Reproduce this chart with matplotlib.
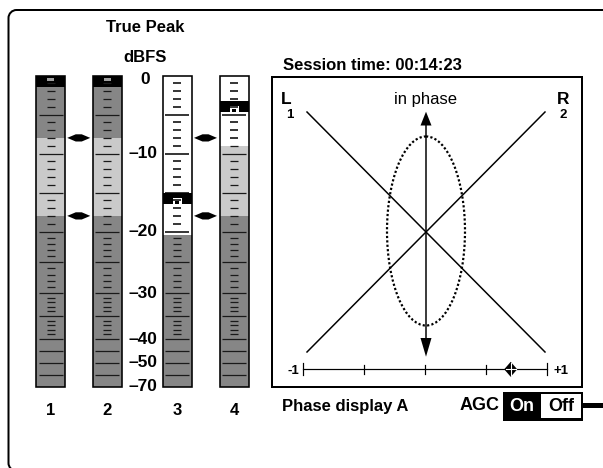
import numpy as np
import matplotlib.pyplot as plt
from matplotlib.patches import Rectangle, Polygon, Ellipse, PathPatch
from matplotlib.path import Path

plt.rcParams['font.family'] = ['Liberation Sans', 'DejaVu Sans']

# meter data (dBFS)
channels = ['1', '2', '3', '4']
level_db = [0, 0, -20.5, -9]
peak_db = [0, 0, -15.8, -4.0]
scale_db = [0, -10, -20, -30, -40, -50, -70]
scale_text = ['0', '\u201310', '\u201320', '\u201330', '\u201340', '\u201350', '\u201370']
zone_db = [-8, -18]
major_db = [0, -5, -10, -15, -20, -25, -30, -35, -40, -45, -50, -60]
minor_db = [-d for d in range(1, 40) if d % 5 != 0]

# phase display data
phase_corr = 0.7
phase_ticks = [-1, -0.5, 0, 0.5, 1]
session_time = '00:14:23'

W, H = 603, 468
fig = plt.figure(figsize=(W / 100, H / 100), dpi=100)
ax = fig.add_axes([0, 0, 1, 1])
ax.set_xlim(0, W)
ax.set_ylim(H, 0)
ax.axis('off')

PX = 0.72  # points per pixel

# meter scale (non linear below -20)
def db_to_y(d):
    return np.interp(-np.asarray(d, float), [0, 20, 30, 40, 50, 70],
                     [75.5, 231.5, 293, 339, 362.5, 386.5])

# outer frame (rounded, runs off the right and bottom)
k = 0.55 * 8
verts = [(640, 10), (16.5, 10), (16.5 - k, 10), (8.5, 18 - k), (8.5, 18),
         (8.5, 463), (8.5, 463 + k), (16.5 - k, 471), (16.5, 471), (640, 471)]
codes = [Path.MOVETO, Path.LINETO, Path.CURVE4, Path.CURVE4, Path.CURVE4,
         Path.LINETO, Path.CURVE4, Path.CURVE4, Path.CURVE4, Path.LINETO]
ax.add_patch(PathPatch(Path(verts, codes), fc='none', ec='black', lw=2 * PX))

meter_x = [36, 92.5, 162.5, 219.5]
mw = 29
dark, light = '#868686', '#cacaca'
top, bot = db_to_y(0), db_to_y(-70)

for i, ch in enumerate(channels):
    x0 = meter_x[i]
    cx = x0 + mw / 2
    ax.add_patch(Rectangle((x0, top), mw, bot - top, fc='white', ec='none'))
    lv = level_db[i]
    bands = [(0, zone_db[0], dark), (zone_db[0], zone_db[1], light), (zone_db[1], -70, dark)]
    for hi, lo, c in bands:
        h = min(hi, lv)
        if h > lo:
            ax.add_patch(Rectangle((x0, db_to_y(h)), mw, db_to_y(lo) - db_to_y(h), fc=c, ec='none'))
    for d in major_db + minor_db:
        y = db_to_y(d)
        if d == 0:
            continue
        tw = 24 if d in major_db else 8
        filled = d <= lv
        ax.plot([cx - tw / 2, cx + tw / 2], [y, y], color='#1a1a1a' if filled else 'black',
                lw=(0.9 if filled else 1.1) * PX * 1.4, solid_capstyle='butt')
    # peak hold
    pk = peak_db[i]
    yc = max(db_to_y(pk), top + 5.5)
    ax.add_patch(Rectangle((x0, yc - 5.5), mw, 11, fc='black', ec='none'))
    if pk >= -1:
        ax.add_patch(Rectangle((cx - 3.5, yc - 3.5), 7, 3.5, fc='#a0a0a0', ec='none'))
    else:
        ax.add_patch(Rectangle((cx - 4.5, yc - 0.5), 9, 6, fc='white', ec='none'))
        ax.add_patch(Rectangle((cx - 2, yc + 2), 4, 3.5, fc='black', ec='none'))
    ax.add_patch(Rectangle((x0, top), mw, bot - top, fc='none', ec='black', lw=1.6 * PX))
    ax.text(cx, 410.5, ch, ha='center', va='center', fontsize=12, fontweight='bold')

# zone markers
for mx in [(meter_x[0] + mw + meter_x[1]) / 2, (meter_x[2] + mw + meter_x[3]) / 2]:
    for d in zone_db:
        y = db_to_y(d)
        ax.add_patch(Polygon([(mx - 11.5, y), (mx - 3, y - 3.6), (mx + 3, y - 3.6),
                              (mx + 11.5, y), (mx + 3, y + 3.6), (mx - 3, y + 3.6)],
                             closed=True, fc='black', ec='none'))

# scale labels
for d, t in zip(scale_db, scale_text):
    y = max(db_to_y(d), 79)
    if t.startswith('\u2013'):
        ax.text(157.5, y, t, ha='right', va='center', fontsize=12.5, fontweight='bold')
    else:
        ax.text(145, y, t, ha='center', va='center', fontsize=12.5, fontweight='bold')

ax.text(145, 27, 'True Peak', ha='center', va='center', fontsize=12, fontweight='bold')
ax.text(145, 57, 'dBFS', ha='center', va='center', fontsize=12, fontweight='bold')

# phase display
bx0, by0, bx1, by1 = 272, 77, 581.5, 387.3
ax.add_patch(Rectangle((bx0, by0), bx1 - bx0, by1 - by0, fc='white', ec='black', lw=2 * PX))
ax.text(283, 65, 'Session time: ' + session_time, ha='left', va='center',
        fontsize=12, fontweight='bold')

cx, cy = 426, 232
ax.plot([cx - 119, cx + 119], [cy - 120, cy + 120], color='black', lw=1.5 * PX)
ax.plot([cx + 119, cx - 119], [cy - 120, cy + 120], color='black', lw=1.5 * PX)
ax.plot([cx, cx], [124, 340], color='black', lw=1.5 * PX)
ax.add_patch(Polygon([(cx, 111.7), (cx - 5.5, 125.5), (cx + 5.5, 125.5)], fc='black', ec='none'))
ax.add_patch(Polygon([(cx, 356.7), (cx - 5.5, 338), (cx + 5.5, 338)], fc='black', ec='none'))
ax.add_patch(Ellipse((cx, 231), 78, 189, fc='none', ec='black', lw=2.2 * PX, ls=(0, (1, 1))))

ax.text(286, 99.5, 'L', ha='center', va='center', fontsize=12.5, fontweight='bold')
ax.text(289.5, 114.5, '1', ha='center', va='center', fontsize=9.5, fontweight='bold')
ax.text(563.5, 99.5, 'R', ha='center', va='center', fontsize=12.5, fontweight='bold')
ax.text(563.5, 114.5, '2', ha='center', va='center', fontsize=9.5, fontweight='bold')
ax.text(425.5, 99.5, 'in phase', ha='center', va='center', fontsize=12)

def ph_to_x(p):
    return 425.3 + p * 122

sy = 369.3
ax.plot([ph_to_x(-1), ph_to_x(1)], [sy, sy], color='black', lw=1.2 * PX)
for p in phase_ticks:
    hh = 6 if abs(p) == 1 else 4.5
    ax.plot([ph_to_x(p)] * 2, [sy - hh, sy + hh], color='black', lw=1.2 * PX)
ax.text(293.5, 370.5, '-1', ha='center', va='center', fontsize=9.5, fontweight='bold')
ax.text(561.5, 370.5, '+1', ha='center', va='center', fontsize=9.5, fontweight='bold')
px = ph_to_x(phase_corr)
ax.add_patch(Polygon([(px, sy - 7.5), (px + 6.5, sy), (px, sy + 7.5), (px - 6.5, sy)],
                     fc='black', ec='none'))
ax.plot([px, px], [sy - 6, sy + 6], color='white', lw=1.1 * PX)
ax.plot([px - 5, px + 5], [sy, sy], color='white', lw=1.1 * PX)

# bottom row
ax.text(282, 406, 'Phase display A', ha='left', va='center', fontsize=12, fontweight='bold')
ax.text(499.5, 406, 'AGC', ha='right', va='center', fontsize=13, fontweight='bold')
ax.add_patch(Rectangle((502.7, 391.7), 80.6, 29, fc='black', ec='none'))
ax.add_patch(Rectangle((540.5, 394.2), 40.7, 23.6, fc='white', ec='none'))
ax.text(521.5, 406.5, 'On', ha='center', va='center', fontsize=13, fontweight='bold', color='white')
ax.text(560.8, 406.5, 'Off', ha='center', va='center', fontsize=13, fontweight='bold')
ax.add_patch(Rectangle((583, 402.7), 25, 5.6, fc='black', ec='none'))

fig.savefig('out.png', dpi=100)
